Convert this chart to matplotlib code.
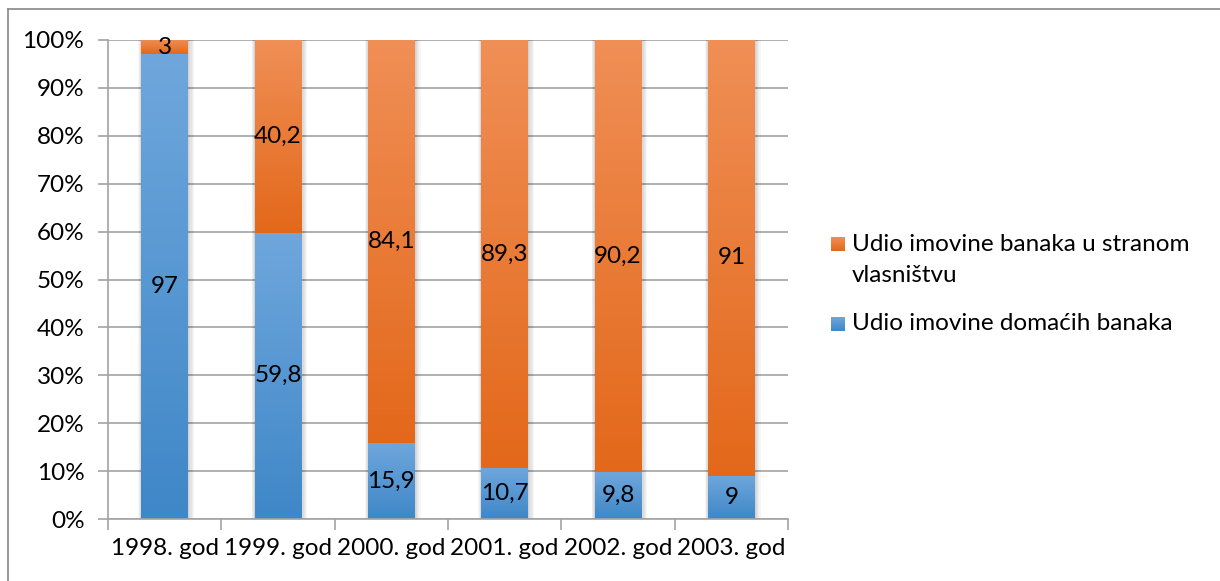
import numpy as np
import matplotlib.pyplot as plt
from matplotlib.colors import LinearSegmentedColormap
from matplotlib.patches import Rectangle
from matplotlib.lines import Line2D

plt.rcParams['font.family'] = ['Lato', 'DejaVu Sans']

years = ['1998. god', '1999. god', '2000. god', '2001. god', '2002. god', '2003. god']
domestic = [97, 59.8, 15.9, 10.7, 9.8, 9]
foreign = [3, 40.2, 84.1, 89.3, 90.2, 91]
label_domestic = 'Udio imovine domaćih banaka'
label_foreign = 'Udio imovine banaka u stranom\nvlasništvu'

W, H = 1220, 581
fig = plt.figure(figsize=(W / 100, H / 100), dpi=100)
ax = fig.add_axes([108 / W, 1 - 519 / H, (788 - 108) / W, (519 - 40) / H])

blue_cm = LinearSegmentedColormap.from_list('b', ['#3f87c8', '#6fa7dc'])
orange_cm = LinearSegmentedColormap.from_list('o', ['#e3681a', '#f08f56'])
grad = np.linspace(0, 1, 256).reshape(-1, 1)

x = np.arange(len(years))
bw = 0.41
px_x = len(years) / (788 - 108)

ax.set_xlim(-0.5, len(years) - 0.5)
ax.set_ylim(0, 100)

# soft shadow around each bar
for xi in x:
    for k in range(1, 6):
        ax.add_patch(Rectangle((xi - bw / 2 - k * px_x * 0.6, 0), bw + k * px_x * 1.8, 100,
                               facecolor='black', alpha=0.035, lw=0, zorder=1.5))

bars_d = ax.bar(x, domestic, bw, color='none', zorder=2)
bars_f = ax.bar(x, foreign, bw, bottom=domestic, color='none', zorder=2)

# vertical gradient fill for every segment
for bars, cm in ((bars_d, blue_cm), (bars_f, orange_cm)):
    for b in bars:
        x0, y0 = b.get_x(), b.get_y()
        im = ax.imshow(grad, cmap=cm, origin='lower', aspect='auto', zorder=2.1,
                       extent=[x0, x0 + b.get_width(), y0, y0 + b.get_height()])
        im.set_clip_path(b)

ax.set_xlim(-0.5, len(years) - 0.5)
ax.set_ylim(0, 100)

fs = 17.5
for xi, d, f in zip(x, domestic, foreign):
    ax.text(xi, d / 2, f'{d:g}'.replace('.', ','), ha='center', va='center',
            fontsize=fs, zorder=4)
    ax.text(xi, d + f / 2, f'{f:g}'.replace('.', ','), ha='center', va='center',
            fontsize=fs, zorder=4)

# axes styling
ax.set_yticks(np.arange(0, 101, 10))
ax.set_yticklabels([f'{v}%' for v in range(0, 101, 10)], fontsize=fs)
ax.yaxis.grid(True, color='#a3a3a3', lw=1.2)
ax.set_axisbelow(True)
for s in ('top', 'right'):
    ax.spines[s].set_visible(False)
for s in ('left', 'bottom'):
    ax.spines[s].set_color('#a3a3a3')
    ax.spines[s].set_linewidth(1.2)
ax.tick_params(axis='y', length=7, width=1.2, color='#a3a3a3', pad=10)

ax.set_xticks(np.arange(-0.5, len(years)), minor=False)
ax.set_xticklabels([])
ax.tick_params(axis='x', length=8, width=1.2, color='#a3a3a3')
ax.set_xticks(x, minor=True)
ax.set_xticklabels(years, minor=True, fontsize=fs)
ax.tick_params(axis='x', which='minor', length=0, pad=14)

# legend
entries = [(label_foreign, orange_cm, 244), (label_domestic, blue_cm, 324)]
for text, cm, yc in entries:
    lax = fig.add_axes([831 / W, 1 - (yc + 7) / H, 14 / W, 14 / H])
    lax.imshow(grad, cmap=cm, origin='lower', aspect='auto')
    lax.set_axis_off()
    for i, line in enumerate(text.split('\n')):
        fig.text(852 / W, 1 - (yc + 32 * i) / H, line, fontsize=fs,
                 va='center', ha='left')

# outer frame
fig.add_artist(Line2D([8 / W, 8 / W], [0, 1 - 9 / H], color='#888888', lw=1.2))
fig.add_artist(Line2D([8 / W, 1], [1 - 9 / H, 1 - 9 / H], color='#888888', lw=1.2))

fig.savefig('out.png', dpi=100)
